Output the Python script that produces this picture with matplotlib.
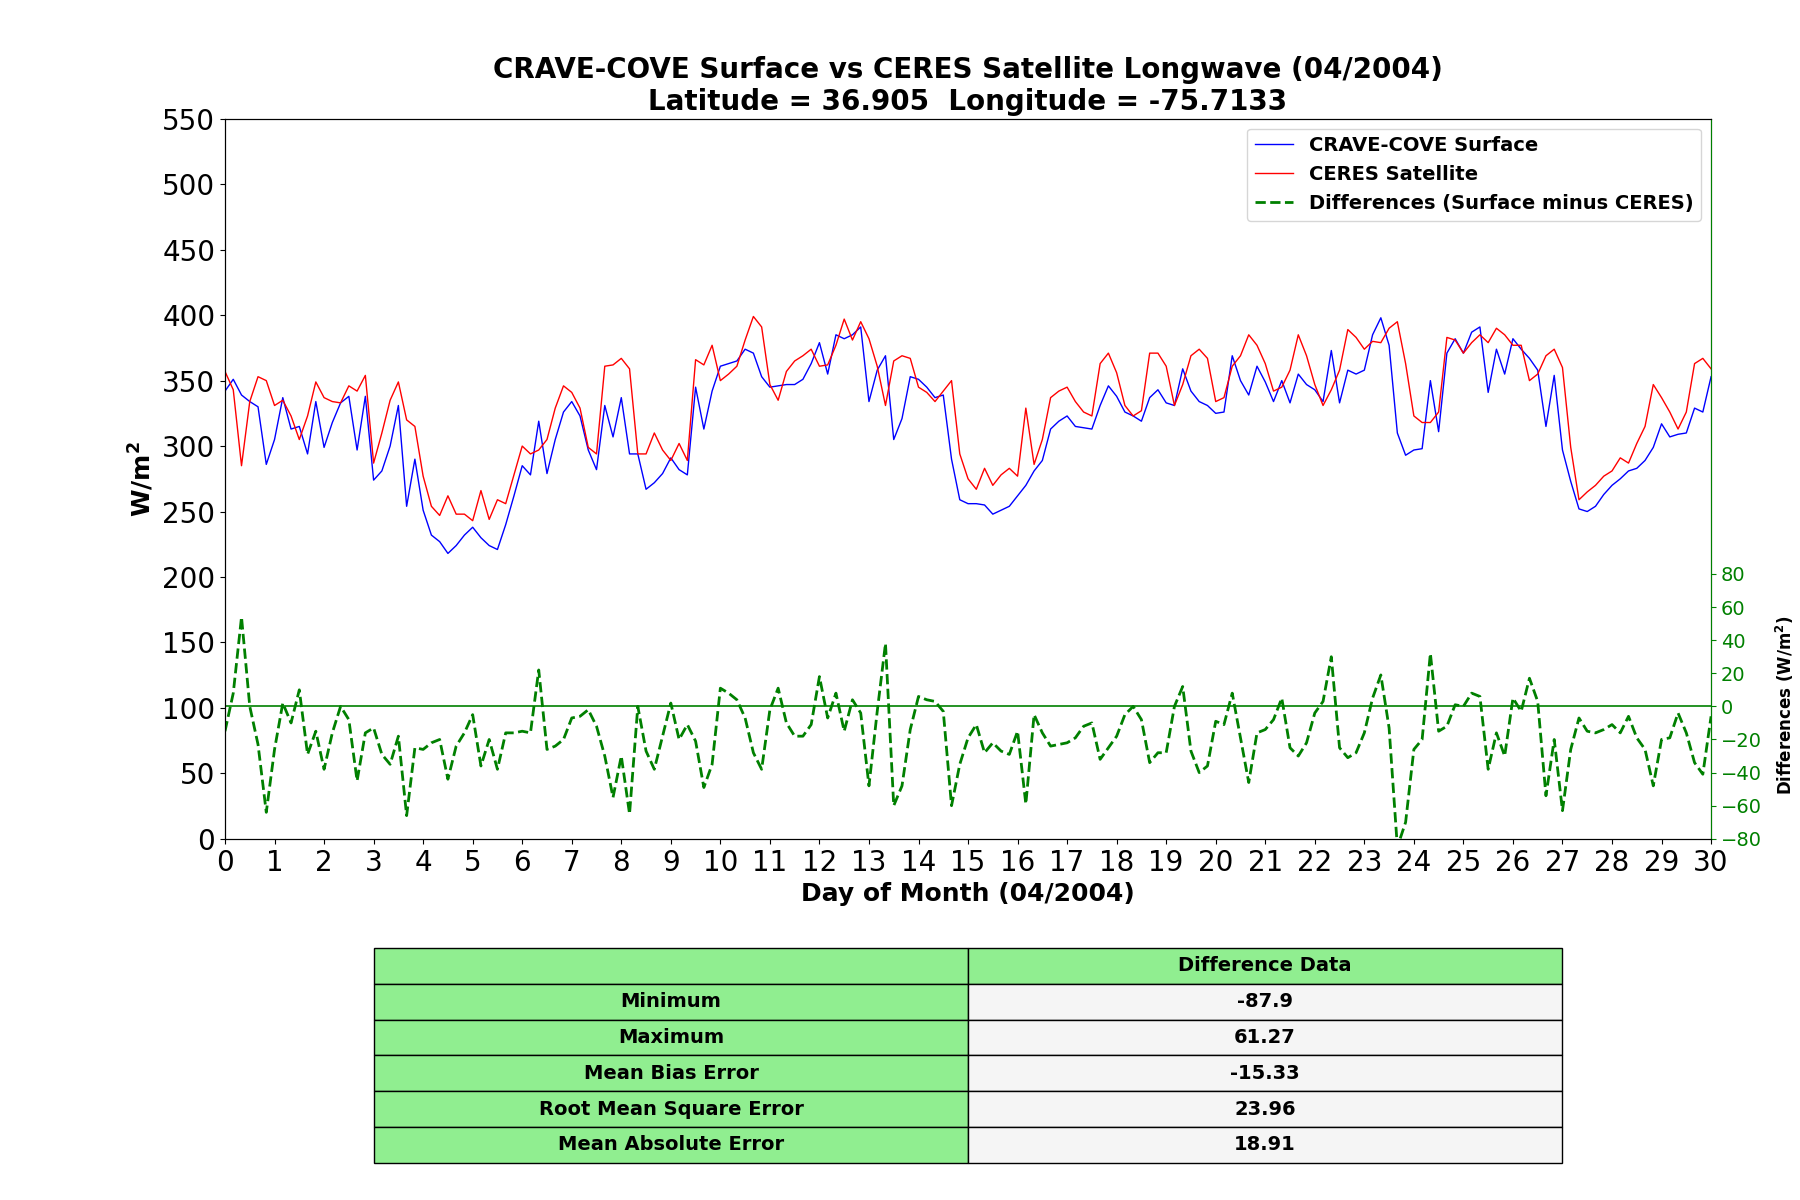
import numpy as np
import matplotlib
matplotlib.use("Agg")
import matplotlib.pyplot as plt

# Longwave flux (W/m^2), every 4 hours, 1 Apr 00Z .. 30 Apr 24Z
surface_lw = [
    342, 351, 339, 334, 330, 286, 305, 337, 313, 315, 294, 334,
    299, 318, 333, 338, 297, 338, 274, 281, 300, 331, 254, 290,
    251, 232, 227, 218, 224, 232, 238, 230, 224, 221, 240, 262,
    285,
    278, 319, 279, 305, 326, 334, 323, 297, 282, 331, 307, 337,
    294, 294, 267, 272, 279, 291, 282, 278, 345, 313, 342, 361,
    363, 365, 374, 371, 353, 345, 346, 347, 347, 351, 363, 379,
    355, 385, 382, 385, 391, 334, 358, 369, 305, 321, 353, 351,
    345, 337, 339, 290, 259, 256, 256, 255, 248, 251, 254, 262,
    270, 281, 289, 313, 319, 323, 315, 314, 313, 331, 346, 338,
    326, 323, 319, 337, 343, 333, 331, 359, 342, 334, 331, 325,
    326, 369, 350, 339, 361, 349, 334, 350, 333, 355, 347, 343,
    334, 373, 333, 358, 355, 358, 385, 398, 377, 310, 293, 297,
    298, 350, 311, 371, 382, 371, 387, 391, 341, 374, 355, 382,
    374, 367, 358, 315, 354, 297, 273, 252, 250, 254, 263, 270,
    275, 281, 283, 289, 299, 317, 307, 309, 310, 329, 326, 353,
]
ceres_lw = [
    357, 343, 285, 334, 353, 350, 331, 335, 323, 305, 323, 349,
    337, 334, 333, 346, 342, 354, 287, 310, 335, 349, 320, 315,
    277, 254, 247, 262, 248, 248, 243, 266, 244, 259, 256, 278,
    300,
    294, 297, 305, 329, 346, 341, 329, 299, 294, 361, 362, 367,
    359, 294, 294, 310, 297, 289, 302, 289, 366, 362, 377, 350,
    355, 361, 381, 399, 391, 347, 335, 357, 365, 369, 374, 361,
    362, 377, 397, 381, 395, 382, 361, 331, 365, 369, 367, 345,
    341, 334, 342, 350, 294, 275, 267, 283, 270, 278, 283, 277,
    329, 286, 305, 337, 342, 345, 334, 326, 323, 363, 371, 356,
    331, 323, 327, 371, 371, 361, 331, 347, 369, 374, 367, 334,
    337, 361, 369, 385, 377, 363, 342, 345, 358, 385, 369, 347,
    331, 343, 358, 389, 383, 374, 380, 379, 390, 395, 363, 323,
    318, 318, 326, 383, 381, 371, 379, 385, 379, 390, 385, 377,
    377, 350, 355, 369, 374, 360, 299, 259, 265, 270, 277, 281,
    291, 287, 302, 315, 347, 337, 326, 313, 326, 363, 367, 359,
]
SAMPLES_PER_DAY = 6

# Statistics shown in the table under the plot
stat_names = ["Minimum", "Maximum", "Mean Bias Error",
              "Root Mean Square Error", "Mean Absolute Error"]
stat_values = ["-87.9", "61.27", "-15.33", "23.96", "18.91"]

surface = np.array(surface_lw, dtype=float)
ceres = np.array(ceres_lw, dtype=float)
day = np.arange(len(surface)) / SAMPLES_PER_DAY
diff = surface - ceres

fig = plt.figure(figsize=(18, 12), dpi=100)
ax = fig.add_axes([0.125, 0.301, 0.8256, 0.6])

l1, = ax.plot(day, surface, color="blue", lw=1.0, label="CRAVE-COVE Surface")
l2, = ax.plot(day, ceres, color="red", lw=1.0, label="CERES Satellite")
ax.set_xlim(0, 30)
ax.set_ylim(0, 550)
ax.set_xticks(range(0, 31))
ax.set_yticks(range(0, 551, 50))
ax.tick_params(labelsize=20)
ax.set_xlabel("Day of Month (04/2004)", fontsize=18, fontweight="bold")
ax.set_ylabel("W/m$^\\mathbf{2}$", fontsize=18, fontweight="bold")
ax.set_title("CRAVE-COVE Surface vs CERES Satellite Longwave (04/2004)\n"
             "Latitude = 36.905  Longitude = -75.7133",
             fontsize=20, fontweight="bold")

# Differences on a second y axis, zero sitting at 100 on the main axis
ax2 = ax.twinx()
l3, = ax2.plot(day, diff, color="green", ls="--", lw=2.0,
               label="Differences (Surface minus CERES)")
ax2.axhline(0, color="green", lw=1.2)
ax2.set_ylim(-80, 355)
ax2.set_yticks(range(-80, 81, 20))
ax2.tick_params(axis="y", colors="green", labelsize=14)
ax2.spines["right"].set_color("green")
ax2.set_ylabel("Differences (W/m$^\\mathbf{2}$)", fontsize=12, fontweight="bold")
ax2.yaxis.set_label_coords(1.042, 0.185)

ax2.legend(handles=[l1, l2, l3], loc="upper right",
           prop={"size": 14, "weight": "bold"})

# Table of difference statistics
tab_ax = fig.add_axes([0.2078, 0.031, 0.66, 0.179])
tab_ax.axis("off")
cells = [["", "Difference Data"]] + [[n, v] for n, v in zip(stat_names, stat_values)]
colours = [["lightgreen", "lightgreen"]] + [["lightgreen", "whitesmoke"]] * len(stat_names)
table = tab_ax.table(cellText=cells, cellColours=colours, cellLoc="center",
                     bbox=[0, 0, 1, 1])
table.auto_set_font_size(False)
for cell in table.get_celld().values():
    cell.set_text_props(fontsize=14, fontweight="bold")
    cell.set_linewidth(1.0)

fig.savefig("out.png", dpi=100)
